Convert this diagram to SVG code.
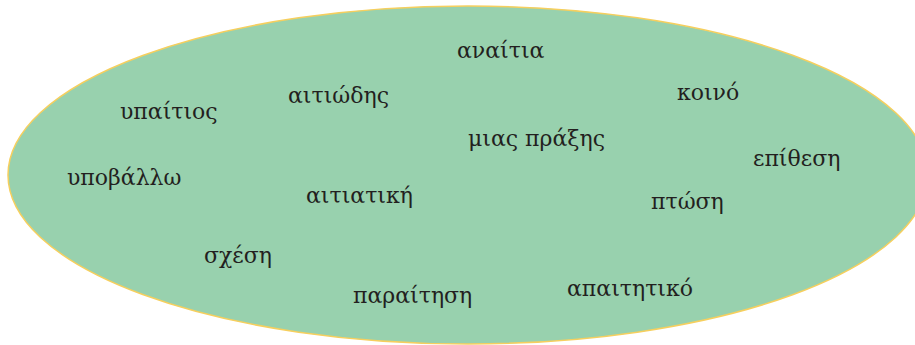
<svg xmlns="http://www.w3.org/2000/svg" width="915" height="345" viewBox="0 0 915 345">
<style>
.t{font-family:"DejaVu Serif","Liberation Serif",serif;font-size:22px;fill:#231f20}
</style>
<rect width="915" height="345" fill="#ffffff"/>
<g id="ellipse"><ellipse cx="468" cy="175" rx="460" ry="169" fill="#98d1ae" stroke="#f6cf5e" stroke-width="1.5"/></g>
<g id="w1"><text class="t" x="457" y="58">αναίτια</text></g>
<g id="w2"><text class="t" x="677" y="100">κοινό</text></g>
<g id="w3"><text class="t" x="120" y="119">υπαίτιος</text></g>
<g id="w4"><text class="t" x="288" y="103">αιτιώδης</text></g>
<g id="w5"><text class="t" x="468" y="146">μιας πράξης</text></g>
<g id="w6"><text class="t" x="753" y="166">επίθεση</text></g>
<g id="w7"><text class="t" x="67" y="185">υποβάλλω</text></g>
<g id="w8"><text class="t" x="306" y="203">αιτιατική</text></g>
<g id="w9"><text class="t" x="651" y="209">πτώση</text></g>
<g id="w10"><text class="t" x="204" y="263">σχέση</text></g>
<g id="w11"><text class="t" x="353" y="303">παραίτηση</text></g>
<g id="w12"><text class="t" x="567" y="296">απαιτητικό</text></g>
<g id="connectors"></g>
</svg>
